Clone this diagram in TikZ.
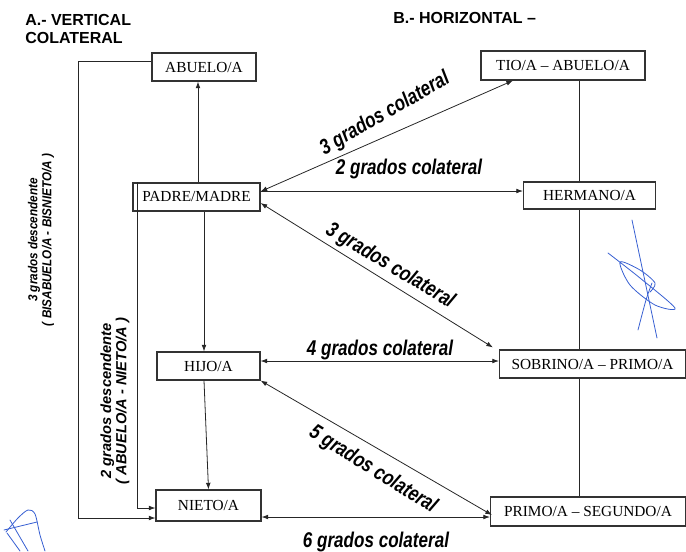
\documentclass[tikz,border=0pt]{standalone}
\usepackage{fontspec}
\setmainfont{Liberation Serif}
\newfontfamily\headfont{Liberation Sans}
\newfontfamily\gradfont[FakeStretch=0.8]{Liberation Sans}
\newfontfamily\vnarrow[FakeStretch=0.9]{Liberation Sans}
\usetikzlibrary{arrows.meta,calc,backgrounds}
\definecolor{sigblue}{RGB}{55,95,210}
\tikzset{
  bx/.style 2 args={draw=black!80, line width=0.8pt, fill=white, inner sep=0pt,
    font=\fontsize{11.5}{13}\selectfont, minimum width=#1*0.75pt, minimum height=#2*0.75pt},
  ln/.style={draw=black!85, line width=0.6pt},
  tip/.style={>={Latex[length=5pt,width=3.6pt]}},
  lbl/.style={inner sep=0pt, font=\gradfont\bfseries\itshape\fontsize{16}{18}\selectfont},
  head/.style={inner sep=0pt, font=\headfont\bfseries\fontsize{12}{14}\selectfont},
  vlabA/.style={inner sep=0pt, align=center, rotate=90, font=\vnarrow\bfseries\itshape\fontsize{9.75}{10.5}\selectfont},
  vlabB/.style={inner sep=0pt, align=center, rotate=90, font=\headfont\bfseries\itshape\fontsize{11}{11.5}\selectfont},
  sig/.style={draw=sigblue, line width=0.6pt, line cap=round, line join=round}
}
\begin{document}
\begin{tikzpicture}[x=0.75pt,y=-0.75pt,tip]
\useasboundingbox (0,0) rectangle (686,551);

% boxes
\node[bx={104}{28}] (ab) at (204,67) {ABUELO/A};
\node[bx={164}{29}] (tio) at (563,65.5) {TIO/A – ABUELO/A};
\node[bx={127}{28}] (pm) at (196.5,197) {PADRE/MADRE};
\node[bx={132}{27}] (her) at (589.5,195.5) {HERMANO/A};
\node[bx={103}{28}] (hijo) at (208.5,366) {HIJO/A};
\node[bx={186}{28}] (sob) at (592.5,364) {SOBRINO/A – PRIMO/A};
\node[bx={105}{31}] (nieto) at (208.5,505.5) {NIETO/A};
\node[bx={195}{29}] (ps) at (588,511.5) {PRIMO/A – SEGUNDO/A};

% right vertical line behind boxes
\coordinate (rv) at ($(tio.south)+(16,0)$);
\begin{scope}[on background layer]
\draw[ln] (rv) -- (rv |- ps.north);
\end{scope}

% headings
\node[head, anchor=base west] (ha1) at (25,25) {A.- VERTICAL};
\node[head, anchor=base west] (ha2) at (25,43.5) {COLATERAL};
\node[head, anchor=base west] (hb) at (393,23) {B.- HORIZONTAL –};

% vertical connectors
\draw[ln,->] ($(pm.north)+(1.5,0)$) -- ($(pm.north |- ab.south)+(1.5,0)$);
\draw[ln,->] ($(pm.south)+(7.5,0)$) -- ($(pm.south |- hijo.north)+(7.5,0)$);
\draw[ln,->] ($(hijo.south)+(-4.5,0)$) -- (nieto.north);
\draw[ln,->] ($(ab.west)+(0,-5.5)$) -- ++(-73,0) |- ($(nieto.west)+(0,12.5)$);
\draw[ln,->] ($(pm.north west)+(5,0)$) |- ($(nieto.west)+(0,2.5)$);

% horizontal / diagonal connectors
\draw[ln,<->] ($(pm.east)+(0,-5.5)$) -- ($(tio.south)+(-50,0)$);
\draw[ln,->] ($(her.west -| pm.east)+(0,-4.5)$) -- ($(her.west)+(0,-4.5)$);
\draw[ln,<->] ($(pm.east)+(0,6)$) -- ($(sob.north west)+(-6,-2)$);
\draw[ln,<->] ($(hijo.east)+(0,-5)$) -- ($(sob.west)+(0,-3)$);
\draw[ln,<->] (hijo.south east) -- ($(ps.west)+(2,3.5)$);
\draw[ln,<->] ($(nieto.east)+(0,11.5)$) -- ($(ps.west)+(0,5.5)$);

% labels
\node[lbl, rotate=30] (l3a) at (385,114) {3 grados colateral};
\node[lbl, anchor=base] (l2) at (409,174) {2 grados colateral};
\node[lbl, rotate=-31] (l3b) at (390,266) {3 grados colateral};
\node[lbl, anchor=base] (l4) at (380,355) {4 grados colateral};
\node[lbl, rotate=-32] (l5) at (373,470) {5 grados colateral};
\node[lbl, anchor=base] (l6) at (376,547) {6 grados colateral};

\node[vlabA] (v3) at (41,240) {3 grados descendente\\( BISABUELO/A - BISNIETO/A )};
\node[vlabB] (v2) at (115,401) {2 grados descendente\\( ABUELO/A - NIETO/A )};

% signatures
\draw[sig] (632,220) -- (657,338);
\draw[sig] plot[smooth] coordinates {(608,253) (640,278) (675,308) (655,305) (630,285) (620,262) (640,270) (655,283) (650,292)};
\draw[sig] plot[smooth] coordinates {(652,283) (646,300) (638,330)};
\draw[sig] plot[smooth] coordinates {(6,532) (18,518) (28,510) (35,514) (40,535) (45,551)};
\draw[sig] (4,530) -- (37,522);
\draw[sig] (7,533) -- (20,551);
\draw[sig] (10,520) -- (28,551);
\end{tikzpicture}
\end{document}
